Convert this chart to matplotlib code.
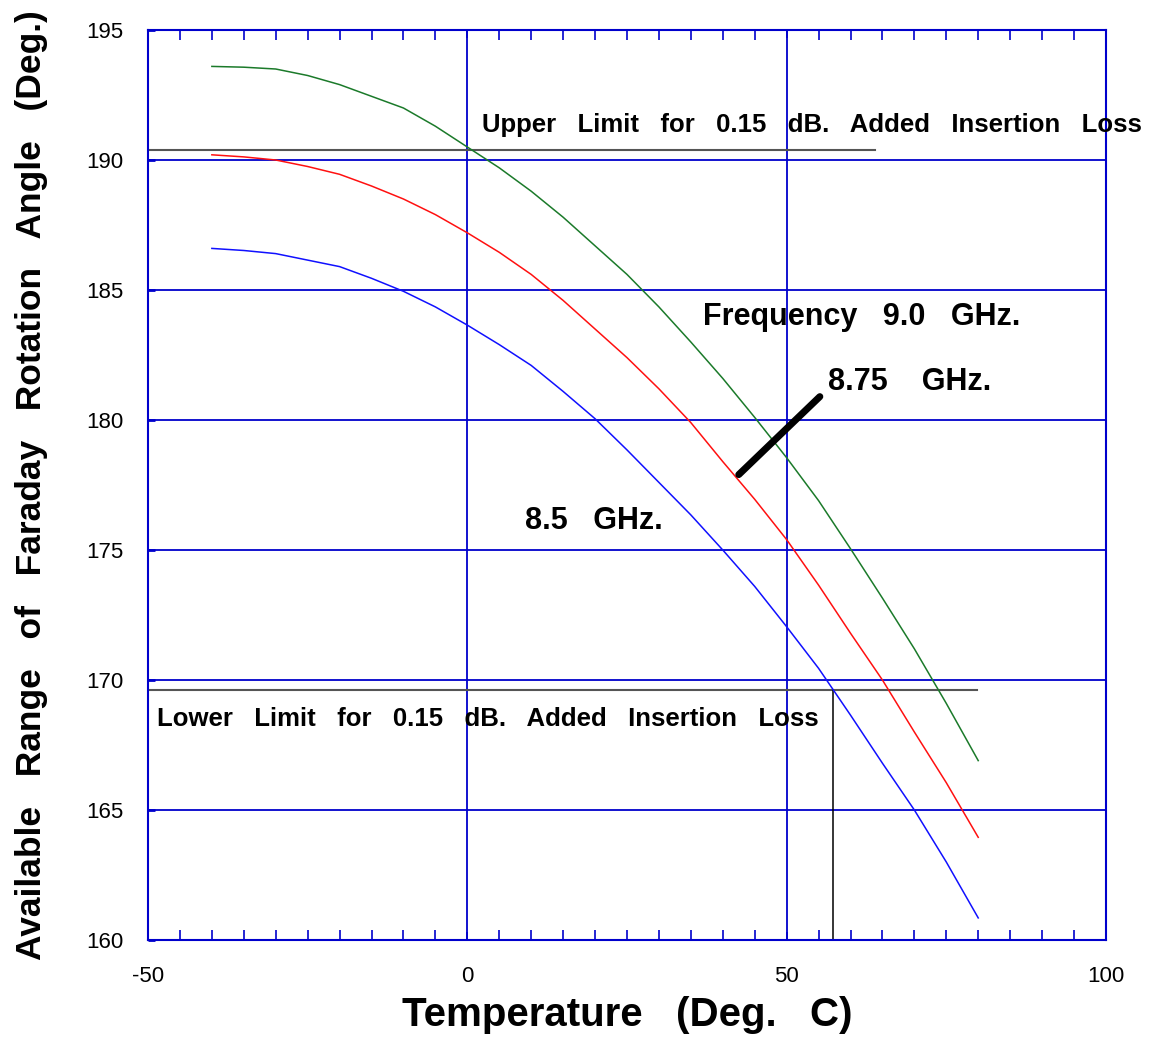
import numpy as np
import matplotlib
matplotlib.use('Agg')
import matplotlib.pyplot as plt
from matplotlib.ticker import MultipleLocator

plt.rcParams['font.family'] = ['Liberation Sans', 'DejaVu Sans']
plt.rcParams['axes.unicode_minus'] = False

# Temperature (Deg. C)
temp = [-40, -35, -30, -25, -20, -15, -10, -5, 0, 5, 10, 15, 20, 25, 30,
        35, 40, 45, 50, 55, 60, 65, 70, 75, 80]

# Available Faraday rotation angle (Deg.)
rot_9_0 = [193.6, 193.57, 193.5, 193.25, 192.9, 192.45, 192.0, 191.3, 190.5, 189.7,
           188.8, 187.8, 186.7, 185.6, 184.35, 183.0, 181.6, 180.1, 178.55, 176.9,
           175.05, 173.15, 171.2, 169.1, 166.9]
rot_8_75 = [190.2, 190.12, 190.0, 189.75, 189.45, 189.0, 188.5, 187.9, 187.2, 186.45,
            185.6, 184.6, 183.5, 182.4, 181.2, 179.9, 178.4, 176.95, 175.4, 173.65,
            171.8, 170.0, 168.0, 166.05, 163.95]
rot_8_5 = [186.6, 186.52, 186.4, 186.15, 185.9, 185.45, 184.95, 184.35, 183.65, 182.9,
           182.1, 181.1, 180.05, 178.85, 177.6, 176.35, 175.0, 173.6, 172.05, 170.45,
           168.65, 166.8, 165.0, 163.0, 160.85]

upper_limit = 190.4
lower_limit = 169.6
lower_cross_temp = 57.2

fig = plt.figure(figsize=(11.5, 10.53), dpi=100)
ax = fig.add_axes([0.1287, 0.1073, 0.833, 0.8642])

grid_blue = '#0000cc'

ax.set_xlim(-50, 100)
ax.set_ylim(160, 195)
ax.xaxis.set_major_locator(MultipleLocator(50))
ax.xaxis.set_minor_locator(MultipleLocator(5))
ax.yaxis.set_major_locator(MultipleLocator(5))

# grid lines
for gx in [0, 50]:
    ax.axvline(gx, color=grid_blue, lw=1.3, zorder=1)
for gy in [165, 170, 175, 180, 185, 190]:
    ax.axhline(gy, color=grid_blue, lw=1.3, zorder=1)

for s in ax.spines.values():
    s.set_color(grid_blue)
    s.set_linewidth(1.5)

ax.tick_params(which='both', direction='in', color=grid_blue, top=True, bottom=True,
               left=True, right=False, labelsize=16, pad=19)
ax.tick_params(which='major', length=6, width=1.2)
ax.tick_params(which='minor', length=7, width=1.2)
ax.tick_params(axis='y', which='major', length=5, width=2, pad=18)

# limit lines
ax.plot([-50, 63.9], [upper_limit, upper_limit], color='#555555', lw=1.5, zorder=2)
ax.plot([-50, 79.8], [lower_limit, lower_limit], color='#555555', lw=1.5, zorder=2)
ax.plot([lower_cross_temp, lower_cross_temp], [160, lower_limit], color='black', lw=1.1, zorder=2)

# curves
ax.plot(temp, rot_9_0, color='#1b7a2a', lw=1.1, zorder=3)
ax.plot(temp, rot_8_75, color='#ff1010', lw=1.1, zorder=3)
ax.plot(temp, rot_8_5, color='#1010ff', lw=1.1, zorder=3)

# annotations
txt = dict(fontsize=18.5, fontweight='bold', color='black', va='center', ha='left', zorder=4)
ax.text(2.3, 191.35, 'Upper   Limit   for   0.15   dB.   Added   Insertion   Loss',
        clip_on=False, **txt)
ax.text(-48.6, 168.5, 'Lower   Limit   for   0.15   dB.   Added   Insertion   Loss', **txt)

lab = dict(fontsize=22, fontweight='bold', color='black', va='center', ha='left', zorder=4)
ax.text(36.9, 183.95, 'Frequency   9.0   GHz.', **lab)
ax.text(56.4, 181.45, '8.75    GHz.', **lab)
ax.text(9.0, 176.1, '8.5   GHz.', **lab)
ax.plot([42.5, 55.2], [177.9, 180.9], color='black', lw=5, solid_capstyle='round', zorder=4)

ax.set_xlabel('Temperature   (Deg.   C)', fontsize=29, fontweight='bold', labelpad=6)
ax.set_ylabel('Available   Range   of   Faraday   Rotation   Angle   (Deg.)', fontsize=25.5,
              fontweight='bold', labelpad=27)

fig.savefig('out.png', dpi=100)
